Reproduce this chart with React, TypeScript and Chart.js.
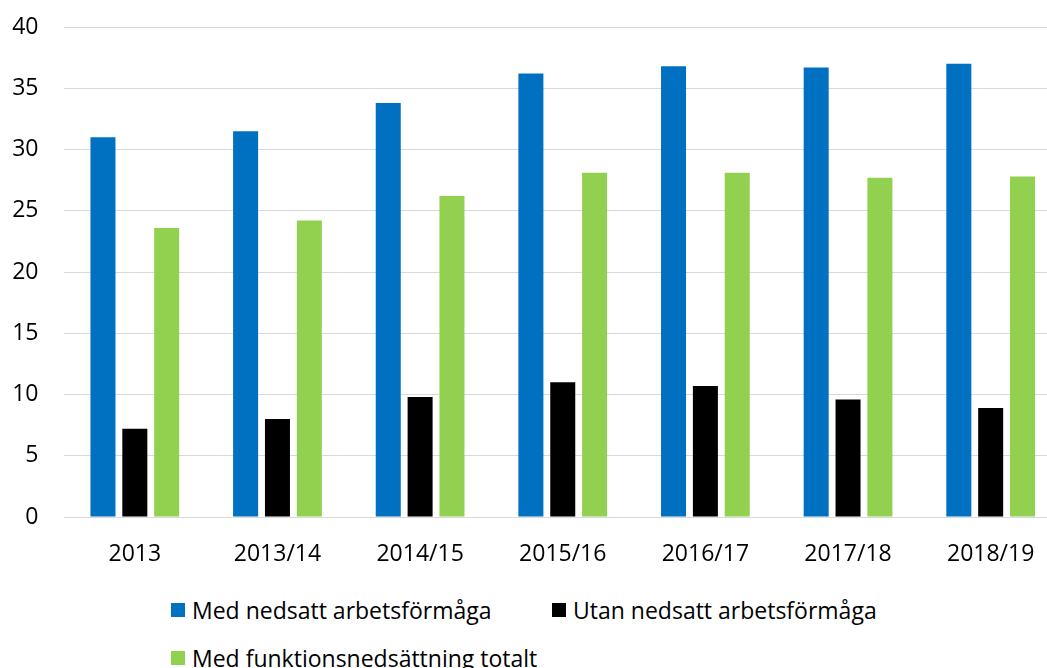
import React, { useEffect, useRef } from "react";
import { Chart, registerables } from "chart.js";

Chart.register(...registerables);

const categories = ["2013", "2013/14", "2014/15", "2015/16", "2016/17", "2017/18", "2018/19"];
const medNedsatt = [31.0, 31.5, 33.8, 36.2, 36.8, 36.7, 37.0];
const utanNedsatt = [7.2, 8.0, 9.8, 11.0, 10.7, 9.6, 8.9];
const funktionTotalt = [23.6, 24.2, 26.2, 28.1, 28.1, 27.7, 27.8];

const seriesNames = ["Med nedsatt arbetsförmåga", "Utan nedsatt arbetsförmåga", "Med funktionsnedsättning totalt"];
const seriesColors = ["#0070C0", "#000000", "#92D050"];

const yMin = 0;
const yMax = 40;
const yStep = 5;

const FONT = "'Open Sans', 'Noto Sans', sans-serif";
const FONT_SIZE = 23;

export default function App() {
  const canvasRef = useRef<HTMLCanvasElement | null>(null);

  useEffect(() => {
    if (!canvasRef.current) return;
    const chart = new Chart(canvasRef.current, {
      type: "bar",
      data: {
        labels: categories,
        datasets: [
          { label: seriesNames[0], data: medNedsatt, backgroundColor: seriesColors[0] },
          { label: seriesNames[1], data: utanNedsatt, backgroundColor: seriesColors[1] },
          { label: seriesNames[2], data: funktionTotalt, backgroundColor: seriesColors[2] },
        ],
      },
      options: {
        animation: false,
        responsive: true,
        maintainAspectRatio: false,
        layout: { padding: { top: 27, left: 0, right: 0, bottom: 0 } },
        datasets: { bar: { categoryPercentage: 0.67, barPercentage: 0.785 } },
        plugins: { legend: { display: false }, tooltip: { enabled: false } },
        scales: {
          x: {
            grid: { display: false, drawTicks: false },
            border: { display: false },
            ticks: { color: "#000", font: { family: FONT, size: FONT_SIZE }, padding: 24 },
            afterFit: (scale: any) => {
              scale.height = 58;
              scale.paddingLeft = 0;
              scale.paddingRight = 0;
            },
          },
          y: {
            min: yMin,
            max: yMax,
            grid: { color: "#d9d9d9", lineWidth: 1, drawTicks: false },
            border: { display: false },
            ticks: { stepSize: yStep, color: "#000", font: { family: FONT, size: FONT_SIZE }, padding: 25 },
            afterFit: (scale: any) => {
              scale.width = 63.5;
              scale.paddingTop = 0;
              scale.paddingBottom = 0;
            },
          },
        },
      },
    });
    return () => chart.destroy();
  }, []);

  const legendItem = (i: number) => (
    <div key={i} style={{ display: "flex", alignItems: "center", height: 26 }}>
      <span style={{ display: "inline-block", width: 14, height: 14, background: seriesColors[i], marginRight: 7 }} />
      <span>{seriesNames[i]}</span>
    </div>
  );

  return (
    <div style={{ position: "absolute", left: 0, top: 0, width: 1047, height: 668, overflow: "hidden", background: "#fff" }}>
      <div style={{ position: "absolute", left: 0, top: 0, width: 1062, height: 575 }}>
        <canvas ref={canvasRef} />
      </div>
      <div
        style={{
          position: "absolute",
          left: 171,
          top: 597,
          display: "grid",
          gridTemplateColumns: "381px auto",
          rowGap: 22,
          fontFamily: FONT,
          fontSize: FONT_SIZE,
          color: "#000",
          whiteSpace: "nowrap",
        }}
      >
        {legendItem(0)}
        {legendItem(1)}
        {legendItem(2)}
      </div>
    </div>
  );
}
